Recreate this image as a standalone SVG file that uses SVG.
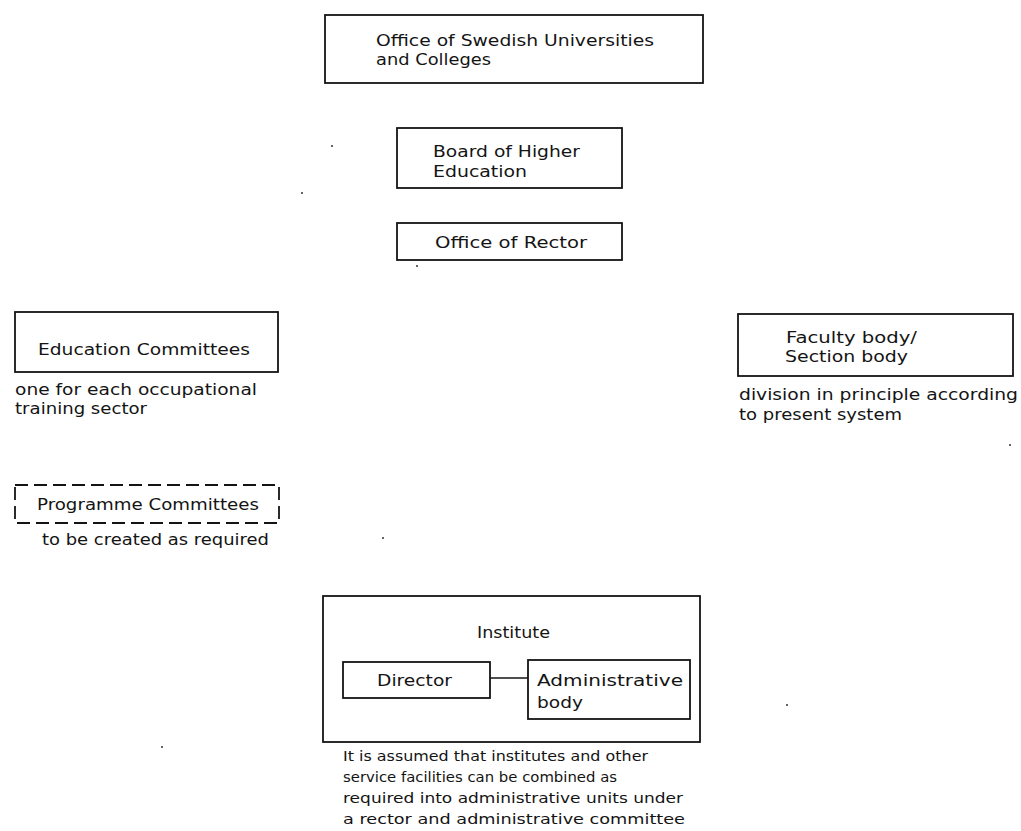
<svg xmlns="http://www.w3.org/2000/svg" width="1021" height="831" viewBox="0 0 1021 831">
<style>
  .box { fill: none; stroke: #141414; stroke-width: 1.8; }
  .dash { fill: none; stroke: #141414; stroke-width: 1.8; stroke-dasharray: 13 6; }
  .lbl { font-family: "DejaVu Sans", "Liberation Sans", Arial, sans-serif; font-size: 15.5px; fill: #141414; }
  .big { font-size: 16.5px; }
  .cap { font-size: 14.5px; }
  .link { stroke: #141414; stroke-width: 1.6; fill: none; }
  .speck { fill: #333; }
</style>
<rect width="1021" height="831" fill="#ffffff"/>

<g id="office-swedish-universities">
  <rect class="box" x="325" y="15" width="378" height="68"/>
  <text class="lbl big" x="376" y="46" textLength="278" lengthAdjust="spacingAndGlyphs">Office of Swedish Universities</text>
  <text class="lbl big" x="376" y="65" textLength="115" lengthAdjust="spacingAndGlyphs">and Colleges</text>
</g>

<g id="board-higher-education">
  <rect class="box" x="397" y="128" width="225" height="60"/>
  <text class="lbl big" x="433" y="157" textLength="147" lengthAdjust="spacingAndGlyphs">Board of Higher</text>
  <text class="lbl big" x="433" y="177" textLength="94" lengthAdjust="spacingAndGlyphs">Education</text>
</g>

<g id="office-of-rector">
  <rect class="box" x="397" y="223" width="225" height="37"/>
  <text class="lbl big" x="435" y="248" textLength="152" lengthAdjust="spacingAndGlyphs">Office of Rector</text>
</g>

<g id="education-committees">
  <rect class="box" x="15" y="312" width="263" height="60"/>
  <text class="lbl" x="38" y="355" textLength="212" lengthAdjust="spacingAndGlyphs">Education Committees</text>
  <text class="lbl" x="15" y="395" textLength="242" lengthAdjust="spacingAndGlyphs">one for each occupational</text>
  <text class="lbl" x="15" y="414" textLength="132" lengthAdjust="spacingAndGlyphs">training sector</text>
</g>

<g id="faculty-section-body">
  <rect class="box" x="738" y="314" width="275" height="62"/>
  <text class="lbl" x="786" y="343" textLength="131" lengthAdjust="spacingAndGlyphs">Faculty body/</text>
  <text class="lbl" x="785" y="362" textLength="123" lengthAdjust="spacingAndGlyphs">Section body</text>
  <text class="lbl" x="739" y="400" textLength="279" lengthAdjust="spacingAndGlyphs">division in principle according</text>
  <text class="lbl" x="739" y="420" textLength="163" lengthAdjust="spacingAndGlyphs">to present system</text>
</g>

<g id="programme-committees">
  <rect class="dash" x="15" y="485" width="264" height="38"/>
  <text class="lbl" x="37" y="510" textLength="222" lengthAdjust="spacingAndGlyphs">Programme Committees</text>
  <text class="lbl" x="42" y="545" textLength="227" lengthAdjust="spacingAndGlyphs">to be created as required</text>
</g>

<g id="institute">
  <rect class="box" x="323" y="596" width="377" height="146"/>
  <text class="lbl" x="477" y="638" textLength="73" lengthAdjust="spacingAndGlyphs">Institute</text>
  <text class="lbl cap" x="343" y="761" textLength="305" lengthAdjust="spacingAndGlyphs">It is assumed that institutes and other</text>
  <text class="lbl cap" x="343" y="782" textLength="274" lengthAdjust="spacingAndGlyphs">service facilities can be combined as</text>
  <text class="lbl cap" x="343" y="803" textLength="340" lengthAdjust="spacingAndGlyphs">required into administrative units under</text>
  <text class="lbl cap" x="343" y="824" textLength="342" lengthAdjust="spacingAndGlyphs">a rector and administrative committee</text>
</g>

<g id="director">
  <rect class="box" x="343" y="662" width="147" height="36"/>
  <text class="lbl" x="377" y="686" textLength="75" lengthAdjust="spacingAndGlyphs">Director</text>
</g>

<g id="administrative-body">
  <rect class="box" x="528" y="660" width="162" height="59"/>
  <text class="lbl" x="537" y="686" textLength="146" lengthAdjust="spacingAndGlyphs">Administrative</text>
  <text class="lbl" x="537" y="708" textLength="46" lengthAdjust="spacingAndGlyphs">body</text>
</g>

<g id="connectors">
  <line class="link" x1="490" y1="678" x2="528" y2="678"/>
</g>

<g id="specks">
  <circle class="speck" cx="332" cy="146" r="1"/>
  <circle class="speck" cx="302" cy="193" r="1"/>
  <circle class="speck" cx="417" cy="266" r="1"/>
  <circle class="speck" cx="1010" cy="445" r="1"/>
  <circle class="speck" cx="383" cy="538" r="1"/>
  <circle class="speck" cx="787" cy="705" r="1"/>
  <circle class="speck" cx="162" cy="747" r="1"/>
</g>
</svg>
